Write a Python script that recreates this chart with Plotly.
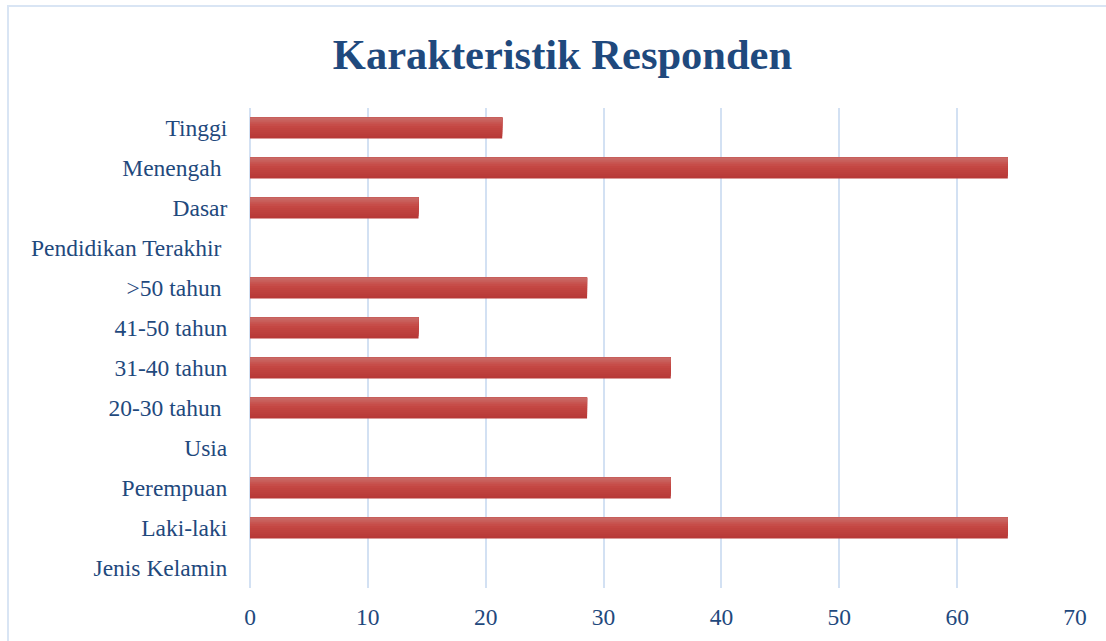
import plotly.graph_objects as go

categories = ["Tinggi", "Menengah\u00a0", "Dasar", "Pendidikan Terakhir\u00a0",
              ">50 tahun\u00a0", "41-50 tahun", "31-40 tahun", "20-30 tahun\u00a0",
              "Usia", "Perempuan", "Laki-laki", "Jenis Kelamin"]
values = [21.4, 64.3, 14.3, None, 28.6, 14.3, 35.7, 28.6, None, 35.7, 64.3, None]
x_ticks = [0, 10, 20, 30, 40, 50, 60, 70]

text_color = "#1f497d"
grid_color = "#d3e1f3"
font_family = "Liberation Serif, Times New Roman, serif"

# vertical gradient for bars (light top -> dark bottom), drawn as overlaid strips
bar_w = 0.52
n_strips = 10
stops = [(0.0, (202, 110, 106)), (0.4, (197, 72, 68)), (1.0, (182, 56, 54))]


def grad_color(t):
    for (t0, c0), (t1, c1) in zip(stops[:-1], stops[1:]):
        if t <= t1:
            f = (t - t0) / (t1 - t0)
            return "rgb(%d,%d,%d)" % tuple(round(a + (b - a) * f) for a, b in zip(c0, c1))
    return "rgb(%d,%d,%d)" % stops[-1][1]


fig = go.Figure()
# draw from darkest (full bar) to lightest (top strip only)
for i in range(n_strips, 0, -1):
    frac = i / n_strips
    fig.add_trace(go.Bar(
        y=categories, x=values, orientation="h",
        marker=dict(color=grad_color((i - 0.5) / n_strips), line=dict(width=0)),
        width=bar_w * frac, offset=-bar_w / 2,
        hoverinfo="skip" if i != n_strips else None,
    ))

fig.update_layout(
    width=1106, height=641,
    barmode="overlay",
    margin=dict(l=250, r=31, t=108, b=53),
    paper_bgcolor="white", plot_bgcolor="white",
    showlegend=False,
    title=dict(text="<b>Karakteristik Responden</b>", x=(333 + 792) / 2 / 1106, xanchor="center",
               y=1 - 54 / 641, yanchor="middle",
               font=dict(family=font_family, size=42.5, color=text_color)),
    font=dict(family=font_family, size=23.5, color=text_color),
    xaxis=dict(range=[0, 70], tickvals=x_ticks, showgrid=True, gridcolor=grid_color,
               gridwidth=1.5, zeroline=True, zerolinecolor=grid_color, zerolinewidth=1.5,
               showline=False, ticks="outside", ticklen=8, tickcolor="rgba(0,0,0,0)",
               tickfont=dict(size=23.5, color=text_color)),
    yaxis=dict(autorange="reversed", showgrid=False, showline=False, zeroline=False,
               ticks="outside", ticklen=17, tickcolor="rgba(0,0,0,0)",
               tickfont=dict(size=23.5, color=text_color)),
    shapes=[dict(type="rect", xref="paper", yref="paper",
                 x0=(8 - 250) / 825, x1=(1120 - 250) / 825,
                 y0=-0.3, y1=(588 - 6) / 480,
                 line=dict(color="#d9e5f4", width=2), layer="below")],
)

fig.write_html("out.html", config={"displayModeBar": False},
               post_script="document.body.style.margin='0';document.body.style.overflow='hidden';")
